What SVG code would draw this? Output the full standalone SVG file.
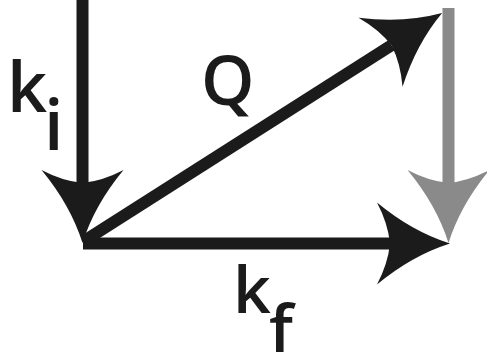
<svg xmlns="http://www.w3.org/2000/svg" width="487" height="359" viewBox="0 0 487 359">
<style>
.ln{fill:none;stroke-width:12;stroke-linecap:butt}
.blk{stroke:#1b1b1b}
.gry{stroke:#8a8a8a}
.lbl{font-family:"Open Sans","Liberation Sans",sans-serif;font-weight:600;fill:#1b1b1b}
</style>
<defs>
<marker id="ab" markerUnits="userSpaceOnUse" orient="auto" markerWidth="90" markerHeight="100" viewBox="-20 -50 90 100" refX="0" refY="0" overflow="visible">
<path d="M60,0 Q22,-12 -13,-41 Q-2,-20 0,0 Q-2,20 -13,41 Q22,12 60,0 Z" fill="#1b1b1b"/>
</marker>
<marker id="ag" markerUnits="userSpaceOnUse" orient="auto" markerWidth="90" markerHeight="100" viewBox="-20 -50 90 100" refX="0" refY="0" overflow="visible">
<path d="M60,0 Q22,-12 -13,-41 Q-2,-20 0,0 Q-2,20 -13,41 Q22,12 60,0 Z" fill="#8a8a8a"/>
</marker>
</defs>
<g id="connectors">
<path id="ki" class="ln blk" d="M82.5,0 L82.5,183" marker-end="url(#ab)"/>
<path id="kf" class="ln blk" d="M83,243.5 L390,243.5" marker-end="url(#ab)"/>
<path id="q" class="ln blk" d="M84,241 L391.5,45.3" marker-end="url(#ab)"/>
<path id="g" class="ln gry" d="M448.5,8 L448.5,183" marker-end="url(#ag)"/>
</g>
<g id="label-ki"><text class="lbl" x="7" y="112" font-size="70">k</text><text class="lbl" x="44" y="150" font-size="70">i</text></g>
<g id="label-q"><text class="lbl" x="201" y="105" font-size="68">Q</text></g>
<g id="label-kf"><text class="lbl" x="233" y="313" font-size="66">k</text><text class="lbl" x="269" y="352" font-size="66">f</text></g>
</svg>
